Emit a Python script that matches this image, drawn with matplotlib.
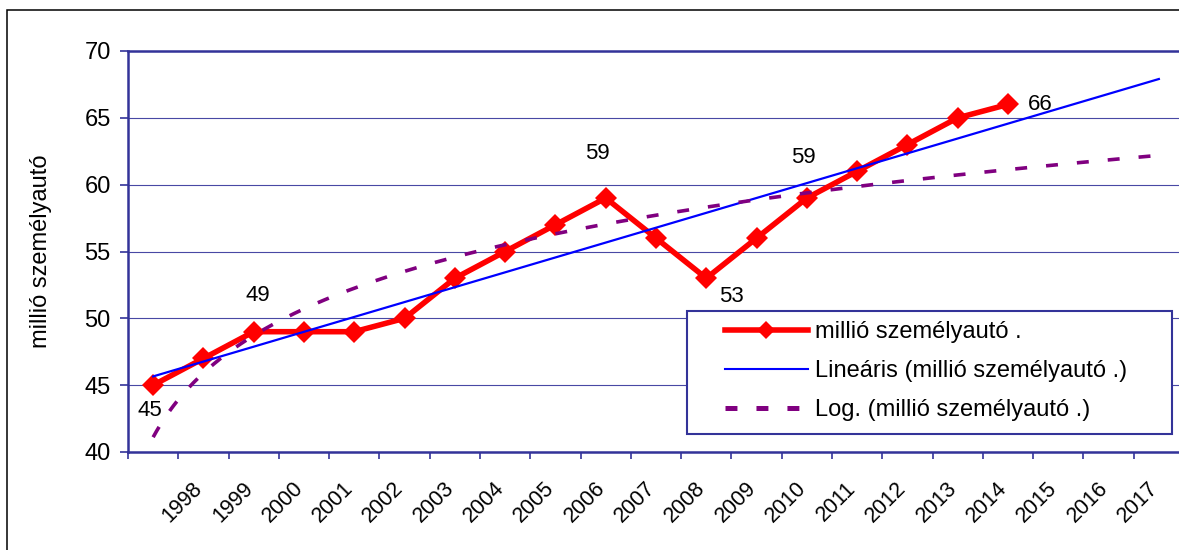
import numpy as np
import matplotlib
matplotlib.use('Agg')
import matplotlib.pyplot as plt
from matplotlib.lines import Line2D
from matplotlib.patches import Rectangle

plt.rcParams['font.family'] = ['Liberation Sans', 'DejaVu Sans']
plt.rcParams['lines.scale_dashes'] = False

# x axis categories (the first category has no label)
categories = [''] + [str(y) for y in range(1998, 2018)]
# million passenger cars
cars = [45, 47, 49, 49, 49, 50, 53, 55, 57, 59, 56, 53, 56, 59, 61, 63, 65, 66]
# indexes of the points that carry a value label
labelled = [0, 2, 9, 11, 13, 17]

series_name = 'millió személyautó .'
navy = '#333399'

fig = plt.figure(figsize=(11.79, 5.5), dpi=100)
# plot area runs past the right edge of the picture, like the source
ax = fig.add_axes([128 / 1179, 1 - 452 / 550, 1056 / 1179, 401 / 550])

# trend lines (Excel style: x = 1..n, forecast to the end of the axis)
xs = np.arange(1, len(cars) + 1)
slope, intercept = np.polyfit(xs, cars, 1)
a, b = np.polyfit(np.log(xs), cars, 1)
x_end = len(categories)

ax.plot(np.arange(len(cars)), cars, color='red', lw=4.0, marker='D', ms=11,
        markeredgewidth=0, zorder=3)
lin_x = np.array([1, x_end])
ax.plot(lin_x - 1, slope * lin_x + intercept, color='blue', lw=1.6, zorder=4)
log_x = np.linspace(1, x_end, 300)
ax.plot(log_x - 1, a * np.log(log_x) + b, color='#800080', lw=2.6,
        dashes=(8.6, 13.7), zorder=5)

# value labels, offsets in pixels
offsets = [(-3, -25), (4, 36), (-8, 45), (25, -18), (-3, 41), (32, 0)]
for i, off in zip(labelled, offsets):
    ax.annotate(str(cars[i]), (i, cars[i]), xytext=off, textcoords='offset pixels',
                ha='center', va='center', fontsize=16, zorder=6)

ax.set_xlim(-0.5, len(categories) - 0.5)
ax.set_ylim(40, 70)
ax.set_yticks(range(40, 75, 5))
ax.yaxis.grid(True, color='#4848A4', lw=0.8)
ax.set_axisbelow(True)

# labels sit a little left of the category centre, as in Excel
ax.set_xticks(np.arange(len(categories)) - 0.08)
ax.set_xticklabels(categories, rotation=45, ha='right', va='center',
                   rotation_mode='anchor')
ax.set_xticks(np.arange(len(categories) + 1) - 0.5, minor=True)
ax.tick_params(axis='x', which='major', length=0, pad=24, labelsize=15.5)
ax.tick_params(axis='x', which='minor', length=5, width=1.2, color=navy, direction='out')
ax.tick_params(axis='y', length=6, width=1.2, color=navy, direction='out', labelsize=17, pad=6.5)

for side in ['left', 'bottom', 'top']:
    ax.spines[side].set_color(navy)
    ax.spines[side].set_linewidth(1.8)
ax.spines['right'].set_visible(False)

ax.set_ylabel('millió személyautó', fontsize=17)
ax.yaxis.set_label_coords((52 - 128) / 1056, 0.5)

# legend box
ax.add_patch(Rectangle(((687 - 128) / 1056, (452 - 434) / 401), 485 / 1056, 123 / 401,
                       transform=ax.transAxes, fc='white', ec=navy, lw=1.5, zorder=7))
handles = [
    Line2D([], [], color='red', lw=4.0, marker='D', ms=9, markeredgewidth=0),
    Line2D([], [], color='blue', lw=1.5),
    Line2D([], [], color='#800080', lw=3.6, dashes=(8.6, 13.7)),
]
labels = [series_name, 'Lineáris (' + series_name + ')', 'Log. (' + series_name + ')']
leg = ax.legend(handles, labels, loc='upper left', frameon=False, fontsize=17,
                bbox_to_anchor=((725 - 128) / 1056, (452 - 321) / 401),
                borderpad=0, borderaxespad=0, handlelength=3.5, handletextpad=0.3,
                labelspacing=0.72)
leg.set_zorder(8)

# outer chart border (right and bottom are cut off in the source)
fig.add_artist(Rectangle((7 / 1179, -0.1), 1.2, 1 - 10 / 550 + 0.1,
                         transform=fig.transFigure, fill=False, ec='black', lw=1.1))

plt.savefig('out.png', dpi=100)
